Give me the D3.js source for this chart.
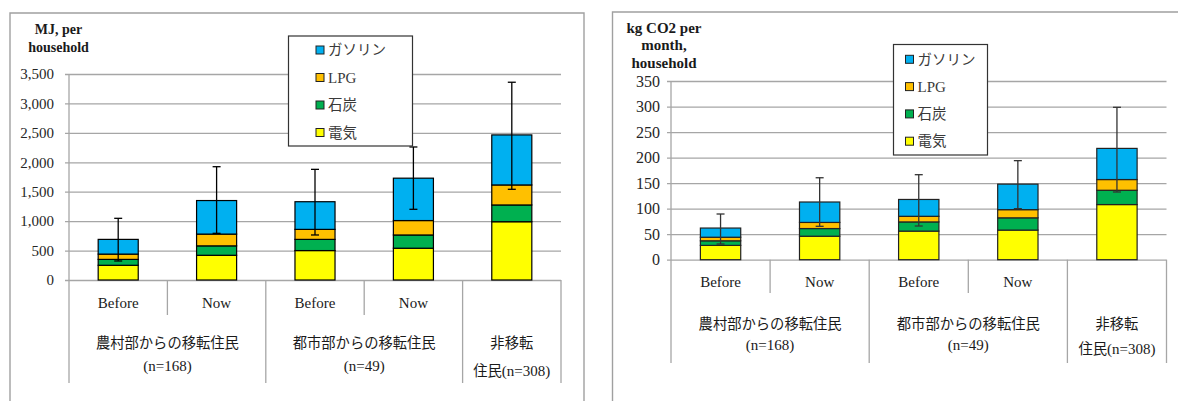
<!DOCTYPE html>
<html>
<head>
<meta charset="utf-8">
<script src="https://cdn.jsdelivr.net/npm/d3@7"></script>
<style>
  body { margin: 0; background: #fff; }
  svg { display: block; }
</style>
</head>
<body>
<svg id="chart" width="1178" height="401"></svg>
<script>
// ---- categories ----
const periods = ["Before", "Now", "Before", "Now", ""];
const groupLine1 = ["農村部からの移転住民", "都市部からの移転住民", "非移転"];
const groupLine2 = ["(n=168)", "(n=49)", "住民(n=308)"];
const groupSpans = [2, 2, 1];

// ---- series (stack order, bottom to top) ----
const seriesNames = ["電気", "石炭", "LPG", "ガソリン"];
const seriesColors = ["#FFFF00", "#00B050", "#FFC000", "#00B0F0"];

// ---- energy use, MJ per household ----
const mjElectricity = [250, 420, 500, 540, 990];
const mjCoal        = [100, 160, 190, 225, 285];
const mjLPG         = [90, 200, 170, 245, 340];
const mjGasoline    = [250, 570, 470, 720, 850];
const mjErrUpper    = [1048, 1925, 1880, 2260, 3360];
const mjErrLower    = [323, 793, 765, 1201, 1541];
const mjTicks       = [0, 500, 1000, 1500, 2000, 2500, 3000, 3500];

// ---- emissions, kg CO2 per month per household ----
const co2Electricity = [28, 46, 56, 58, 108];
const co2Coal        = [9, 15, 18, 24, 28];
const co2LPG         = [7, 12, 11, 16, 21];
const co2Gasoline    = [18, 40, 33, 50, 61];
const co2ErrUpper    = [89.5, 160.5, 166.5, 194, 298.5];
const co2ErrLower    = [30.7, 65.4, 66, 100, 132.6];
const co2Ticks       = [0, 50, 100, 150, 200, 250, 300, 350];

const svg = d3.select("#chart");
svg.append("rect").attr("width", 1178).attr("height", 401).attr("fill", "#fff");

const SERIF = "'Liberation Serif', 'Times New Roman', serif";
const CJK = "'Noto Sans CJK JP', 'Noto Sans', sans-serif";
const GRID = "#a6a6a6";

function drawChart(series, errUpper, errLower, ticks, L) {
  const g = svg.append("g");

  // outer chart frame (open at the bottom)
  g.append("path")
    .attr("d", `M${L.frame.x0},420 V${L.frame.y} H${L.frame.x1} V420`)
    .attr("fill", "none").attr("stroke", "#a0a0a0").attr("stroke-width", 1.4);

  const x = d3.scaleBand().domain(d3.range(periods.length)).range([L.x0, L.x1]).padding(0);
  const y = d3.scaleLinear().domain([0, d3.max(ticks)]).range([L.yBottom, L.yTop]);
  const plotW = L.x1 - L.x0;

  // value axis with gridlines
  const axis = d3.axisLeft(y).tickValues(ticks).tickFormat(d3.format(","))
    .tickSizeInner(-plotW).tickSizeOuter(0).tickPadding(L.tickPad);
  const ag = g.append("g").attr("transform", `translate(${L.x0},0)`).call(axis);
  ag.select(".domain").remove();
  ag.selectAll(".tick line").attr("x1", -4).attr("stroke", GRID).attr("stroke-width", 1.3);
  ag.selectAll(".tick text")
    .attr("font-family", SERIF).attr("font-size", L.tickFont).attr("fill", "#262626");

  // vertical axis line, extended down through the category area
  g.append("line")
    .attr("x1", L.x0).attr("x2", L.x0).attr("y1", L.yTop).attr("y2", L.longSep)
    .attr("stroke", GRID).attr("stroke-width", 1.3);

  // category separators
  let idx = 0;
  const groupStarts = groupSpans.map(s => { const st = idx; idx += s; return st; });
  const groupEnds = groupStarts.map((s, i) => s + groupSpans[i]);
  d3.range(1, periods.length + 1).forEach(i => {
    const long = groupEnds.includes(i);
    const xx = i === periods.length ? L.x1 : x(i);
    g.append("line")
      .attr("x1", xx).attr("x2", xx).attr("y1", L.yBottom).attr("y2", long ? L.longSep : L.shortSep)
      .attr("stroke", GRID).attr("stroke-width", 1.3);
  });

  // stacked bars
  const rows = periods.map((p, i) => {
    const r = { i };
    seriesNames.forEach((s, k) => { r[s] = series[k][i]; });
    return r;
  });
  const stacked = d3.stack().keys(seriesNames)(rows);
  const bw = x.bandwidth() * 0.407;
  const off = (x.bandwidth() - bw) / 2;
  stacked.forEach((layer, k) => {
    g.append("g").selectAll("rect").data(layer).join("rect")
      .attr("x", d => x(d.data.i) + off)
      .attr("width", bw)
      .attr("y", d => y(d[1]))
      .attr("height", d => y(d[0]) - y(d[1]))
      .attr("fill", seriesColors[k])
      .attr("stroke", L.barStroke).attr("stroke-width", 1.2);
  });

  // error bars
  const eg = g.append("g").attr("stroke", L.errStroke).attr("stroke-width", 1.3);
  periods.forEach((p, i) => {
    const cx = x(i) + x.bandwidth() / 2;
    eg.append("line").attr("x1", cx).attr("x2", cx).attr("y1", y(errUpper[i])).attr("y2", y(errLower[i]));
    [errUpper[i], errLower[i]].forEach(v => {
      eg.append("line").attr("x1", cx - 4).attr("x2", cx + 4).attr("y1", y(v)).attr("y2", y(v));
    });
  });

  // period labels
  periods.forEach((p, i) => {
    if (!p) return;
    g.append("text").attr("x", x(i) + x.bandwidth() / 2).attr("y", L.periodY).attr("dy", "0.35em")
      .attr("text-anchor", "middle").attr("font-family", SERIF).attr("font-size", 15)
      .attr("fill", "#1a1a1a").text(p);
  });

  // group labels
  groupLine1.forEach((t, gi) => {
    const cx = (x(groupStarts[gi]) + (groupEnds[gi] === periods.length ? L.x1 : x(groupEnds[gi]))) / 2;
    g.append("text").attr("x", cx).attr("y", L.groupY1).attr("dy", "0.35em")
      .attr("text-anchor", "middle").attr("font-family", CJK).attr("font-size", 14.3)
      .attr("fill", "#1a1a1a").text(t);
    const line2 = groupLine2[gi];
    const m = line2.match(/^([^(]*)(\(.*\))$/);
    const t2 = g.append("text").attr("x", cx).attr("y", m[1] ? L.groupY2b : L.groupY2).attr("dy", "0.35em")
      .attr("text-anchor", "middle").attr("fill", "#1a1a1a");
    if (m[1]) t2.append("tspan").attr("font-family", CJK).attr("font-size", 14.3).text(m[1]);
    t2.append("tspan").attr("font-family", SERIF).attr("font-size", 15).text(m[2]);
  });

  // value axis title
  L.title.forEach((t, li) => {
    g.append("text").attr("x", L.titleX).attr("y", L.titleY[li])
      .attr("text-anchor", "middle").attr("font-family", SERIF).attr("font-weight", "bold")
      .attr("font-size", L.titleFont).attr("fill", "#1a1a1a").text(t);
  });

  // legend
  const lg = g.append("g");
  lg.append("rect").attr("x", L.legend.x).attr("y", L.legend.y)
    .attr("width", L.legend.w).attr("height", L.legend.h)
    .attr("fill", "#fff").attr("stroke", "#333").attr("stroke-width", 1.2);
  const order = d3.range(seriesNames.length).reverse();
  order.forEach((k, r) => {
    const cy = L.legend.row0 + r * L.legend.rowGap;
    lg.append("rect").attr("x", L.legend.swX).attr("y", cy - 4).attr("width", 8).attr("height", 8)
      .attr("fill", seriesColors[k]).attr("stroke", "#222").attr("stroke-width", 1);
    const latin = /^[A-Za-z]+$/.test(seriesNames[k]);
    lg.append("text").attr("x", L.legend.txX).attr("y", cy).attr("dy", "0.36em")
      .attr("font-family", latin ? SERIF : CJK).attr("font-size", latin ? 15 : 14.5)
      .attr("fill", "#3a3a3a").text(seriesNames[k]);
  });
}

drawChart(
  [mjElectricity, mjCoal, mjLPG, mjGasoline], mjErrUpper, mjErrLower, mjTicks,
  {
    frame: { x0: 10, x1: 584, y: 13 },
    x0: 69, x1: 561, yTop: 74, yBottom: 280,
    tickPad: 15, tickFont: 15,
    shortSep: 315, longSep: 383,
    periodY: 303, groupY1: 343, groupY2: 365, groupY2b: 370,
    title: ["MJ, per", "household"], titleX: 58.5, titleY: [34, 52], titleFont: 14,
    barStroke: "#000", errStroke: "#000",
    legend: { x: 288.5, y: 36, w: 124, h: 110, row0: 50, rowGap: 27.5, swX: 316, txX: 328 }
  }
);

drawChart(
  [co2Electricity, co2Coal, co2LPG, co2Gasoline], co2ErrUpper, co2ErrLower, co2Ticks,
  {
    frame: { x0: 612.5, x1: 1200, y: 12 },
    x0: 671, x1: 1166.5, yTop: 81, yBottom: 259.7,
    tickPad: 11, tickFont: 16,
    shortSep: 293, longSep: 363,
    periodY: 282, groupY1: 323.5, groupY2: 344.5, groupY2b: 348.5,
    title: ["kg CO2 per", "month,", "household"], titleX: 664, titleY: [32.5, 50, 67.5], titleFont: 15,
    barStroke: "#222", errStroke: "#333",
    legend: { x: 893.5, y: 44.5, w: 94, h: 110.5, row0: 59.3, rowGap: 27.3, swX: 905.5, txX: 917.5 }
  }
);
</script>
</body>
</html>
